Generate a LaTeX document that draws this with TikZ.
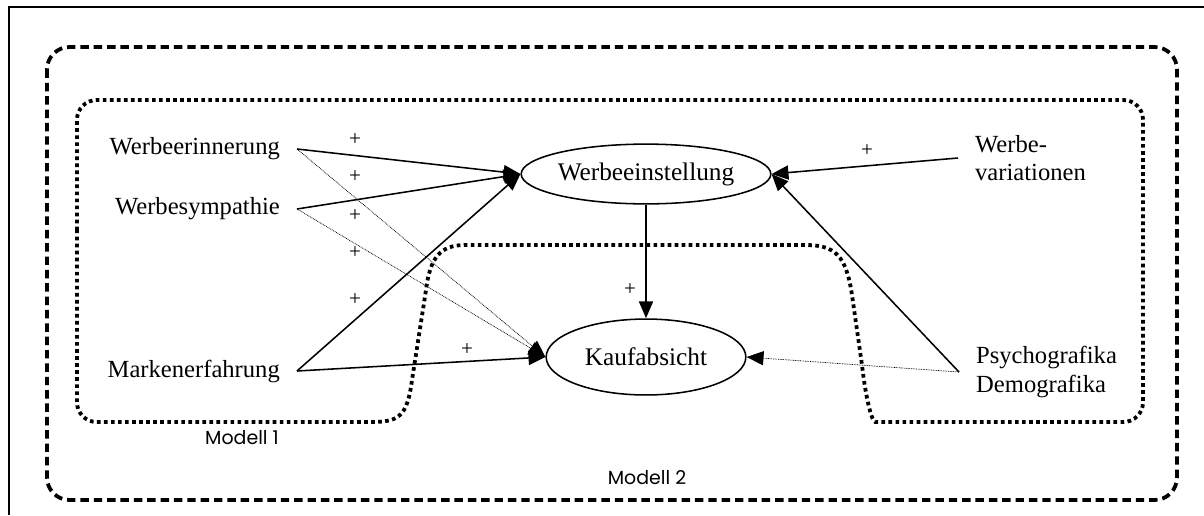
\documentclass[tikz,border=0pt]{standalone}
\usepackage{fontspec}
\setmainfont{Liberation Serif}
\newfontfamily\gothic{Poppins}
\usetikzlibrary{shapes.geometric, arrows.meta}

\begin{document}
\begin{tikzpicture}[x=0.025cm,y=-0.025cm]
\tikzstyle{vertex} = [ellipse,draw=black,line width=1.1pt,inner sep=0pt,font=\fontsize{18}{20}\selectfont]
\tikzstyle{txt} = [inner xsep=12pt,inner ysep=2pt,align=left,font=\fontsize{17.5}{20.5}\selectfont]
\tikzstyle{plus} = [inner sep=0pt,font=\fontsize{15}{15}\selectfont]
\tikzstyle{modell} = [inner sep=0pt,font=\gothic\fontsize{13.5}{14}\selectfont]
\tikzstyle{edge} = [-{Triangle[length=12pt,width=10pt]},line width=1.1pt]
\tikzstyle{edge2} = [-{Triangle[length=12pt,width=10pt]},line width=0.5pt,dash pattern=on 0.6pt off 0.6pt]
\tikzstyle{box1} = [line width=2.7pt,dash pattern=on 2.6pt off 2.4pt]
\tikzstyle{box2} = [line width=2.7pt,dash pattern=on 6pt off 3.5pt,rounded corners=16pt]
\useasboundingbox (0,0) rectangle (1204,515);
\draw[line width=1.4pt] (9,515) -- (9,7) -- (1204,7);
\draw[box2] (47,47) rectangle (1177,500);
\draw[box1,rounded corners=14pt] (77,250) -- (77,100) -- (1143,100) -- (1143,422) -- (895,422)
  [sharp corners] .. controls (872,422) and (866,400) .. (862,365) -- (852,295)
  .. controls (846,255) and (835,245) .. (805,245) -- (465,245)
  .. controls (440,245) and (430,258) .. (426,290) -- (412,380)
  .. controls (407,418) and (398,422) .. (370,422) [rounded corners=14pt] -- (77,422) -- cycle;
\node[vertex,minimum width=174pt,minimum height=42.5pt] (n4) at (646,174) {Werbeeinstellung};
\node[vertex,minimum width=142pt,minimum height=54pt] (n5) at (646,357) {Kaufabsicht};
\node[txt,anchor=east] (n1) at (297,149) {Werbeerinnerung};
\node[txt,anchor=east] (n2) at (297,209) {Werbesympathie};
\node[txt,anchor=east] (n3) at (297,371) {Markenerfahrung};
\node[txt,anchor=west] (n6) at (958,158) {Werbe-\\variationen};
\node[txt,anchor=west] (n7) at (959,372) {Psychografika\\Demografika};
\draw[edge] (n1.east)--(n4.west);
\draw[edge] (n2.east)--(n4.west);
\draw[edge] (n3.east)--(n4.west);
\draw[edge] (n3.east)--(n5.west);
\draw[edge2] (n1.east)--(n5.west);
\draw[edge2] (n2.east)--(n5.west);
\draw[edge] (n4.south)--(n5.north);
\draw[edge] (n6.west)--(n4.east);
\draw[edge] (n7.west)--(n4.east);
\draw[edge2] (n7.west)--(n5.east);
\node[plus] (p1) at (355,140) {+};
\node[plus] (p2) at (355,177) {+};
\node[plus] (p3) at (355,216) {+};
\node[plus] (p4) at (355,253) {+};
\node[plus] (p5) at (355,300) {+};
\node[plus] (p6) at (467,350) {+};
\node[plus] (p7) at (630,290) {+};
\node[plus] (p8) at (867,151) {+};
\node[modell] (m1) at (242,438) {Modell 1};
\node[modell] (m2) at (647,478) {Modell 2};
\end{tikzpicture}
\end{document}
